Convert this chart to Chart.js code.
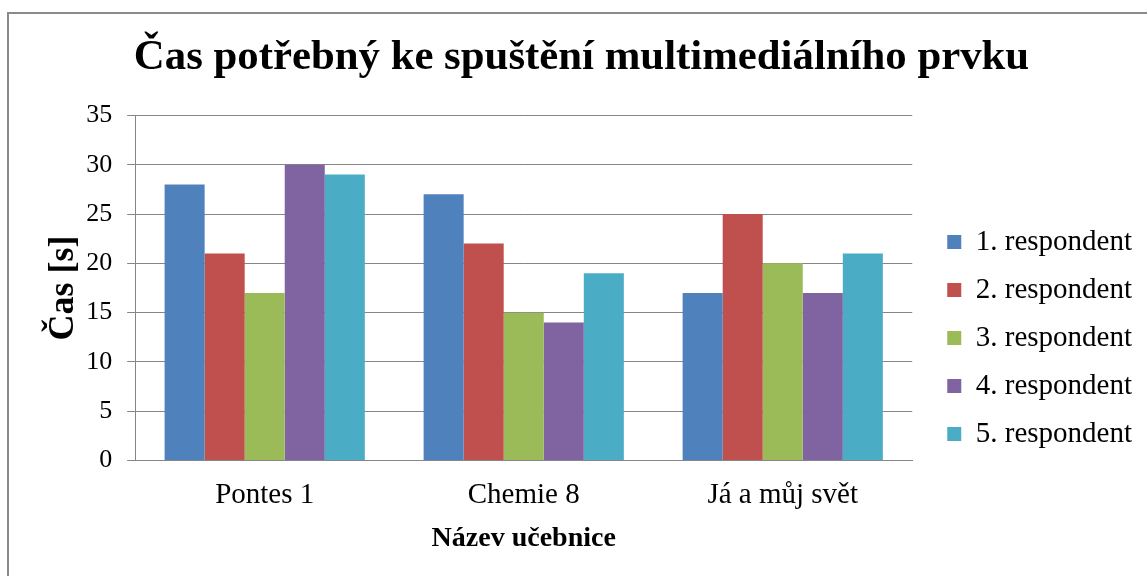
<!DOCTYPE html>
<html>
<head>
<meta charset="utf-8">
<script src="https://cdn.jsdelivr.net/npm/chart.js@4/dist/chart.umd.min.js"></script>
<style>
body { margin: 0; background: #fff; }
#frame { position: absolute; left: 7px; top: 12px; width: 1300px; height: 700px; border: 2px solid #8a8a8a; }
#wrap { position: absolute; left: 0; top: 0; width: 1147px; height: 576px; }
</style>
</head>
<body>
<div id="frame"></div>
<div id="wrap"><canvas id="chart"></canvas></div>
<script>
var categories = ["Pontes 1", "Chemie 8", "Já a můj svět"];
var seriesNames = ["1. respondent", "2. respondent", "3. respondent", "4. respondent", "5. respondent"];
var resp1 = [28, 27, 17];
var resp2 = [21, 22, 25];
var resp3 = [17, 15, 20];
var resp4 = [30, 14, 17];
var resp5 = [29, 19, 21];
var colors = ["#4f81bd", "#c0504d", "#9bbb59", "#8064a2", "#4bacc6"];

var allSeries = [resp1, resp2, resp3, resp4, resp5];
var datasets = allSeries.map(function (vals, i) {
    return {
        label: seriesNames[i],
        data: vals,
        backgroundColor: colors[i],
        borderWidth: 0,
        categoryPercentage: 0.773,
        barPercentage: 1.0
    };
});

var serif = "'Liberation Serif', 'Times New Roman', serif";
Chart.defaults.font.family = serif;
Chart.defaults.color = "#000";

var chart = new Chart(document.getElementById("chart"), {
    type: 'bar',
    data: { labels: categories, datasets: datasets },
    options: {
        responsive: true,
        maintainAspectRatio: false,
        animation: { duration: 0 },
        layout: { padding: { left: 16, right: 0, top: 32, bottom: 20 } },
        plugins: {
            title: {
                display: true,
                text: "Čas potřebný ke spuštění multimediálního prvku",
                font: { size: 42.8, weight: 'bold', family: serif },
                color: "#000",
                padding: { top: 0, bottom: 32 }
            },
            legend: {
                position: 'right',
                labels: {
                    boxWidth: 14,
                    boxHeight: 14,
                    padding: 19,
                    font: { size: 29, family: serif },
                    color: "#000"
                }
            },
            tooltip: { enabled: false }
        },
        scales: {
            x: {
                grid: { display: false, drawTicks: false },
                border: { color: "#868686", width: 1 },
                ticks: { font: { size: 29 }, color: "#000", padding: 17 },
                title: {
                    display: true,
                    text: "Název učebnice",
                    font: { size: 28, weight: 'bold' },
                    color: "#000",
                    padding: { top: 8, bottom: 0 }
                },
                // chart.js counts tick padding twice
                afterFit: function (scale) { scale.height -= 15; }
            },
            y: {
                min: 0,
                max: 35,
                ticks: { stepSize: 5, font: { size: 26 }, color: "#000", padding: 15 },
                grid: { color: "#868686", tickLength: 8 },
                border: { color: "#868686", width: 1 },
                title: {
                    display: true,
                    text: "Čas [s]",
                    font: { size: 36, weight: 'bold' },
                    color: "#000",
                    padding: { top: 26, bottom: 1 }
                },
                afterFit: function (scale) { scale.width -= 15; }
            }
        }
    }
});

// leave a gap between plot area and legend, and move legend items down
var legend = chart.legend;
var legendFit = legend.fit;
legend.fit = function () { legendFit.call(this); this.width += 21; };
var legendDraw = legend.draw;
legend.draw = function () {
    var dx = 16, dy = 44;
    this.left += dx; this.right += dx; this.top += dy; this.bottom += dy;
    legendDraw.apply(this, arguments);
    this.left -= dx; this.right -= dx; this.top -= dy; this.bottom -= dy;
};
chart.update();
</script>
</body>
</html>
